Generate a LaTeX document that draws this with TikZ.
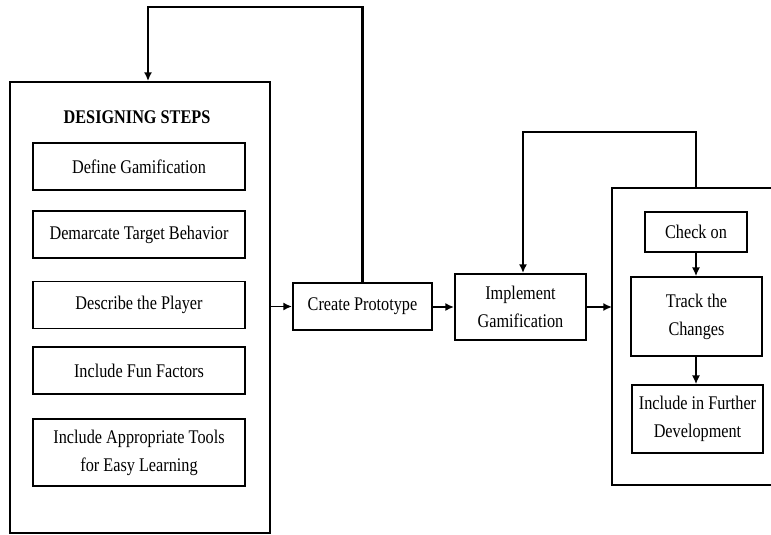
\documentclass[tikz,border=0pt]{standalone}
\usepackage{fontspec}
\setmainfont{Liberation Serif}[FakeStretch=0.84]
\usetikzlibrary{arrows,arrows.meta,positioning}

\begin{document}
\begin{tikzpicture}[x=0.03cm,y=-0.03cm,>={Latex[length=2.6mm,width=2.4mm]},
    every node/.style={font=\fontsize{16.5}{24}\selectfont},
    frame/.style={draw,line width=1.7pt},
    stepbox/.style={draw,line width=1.6pt,minimum width=212*0.03cm,minimum height=47*0.03cm,inner sep=1pt},
    box/.style={draw,line width=1.6pt,align=center,inner sep=1pt},
    arr/.style={->,line width=1.5pt},
    loop/.style={->,line width=1.7pt}]

    \useasboundingbox (0,0) rectangle (771,535);

    % designing steps
    \node[frame,minimum width=260*0.03cm,minimum height=451*0.03cm] (BIG) at (140,307.5) {};
    \node[font=\fontsize{16.5}{20}\selectfont\bfseries] (TITLE) at (137,117) {DESIGNING STEPS};

    \foreach \y/\t/\n in {166.5/Define Gamification/DEFINE,234.5/Demarcate Target Behavior/DEMARCATE,
                          305/Describe the Player/PLAYER,370.5/Include Fun Factors/FUN}
      \node[stepbox] (\n) at (139,\y) {\t};
    \node[stepbox,minimum height=67*0.03cm,align=center] (TOOLS) at (139,452.5) {Include Appropriate Tools\\for Easy Learning};

    % middle
    \node[box,minimum width=139*0.03cm,minimum height=47*0.03cm] (PROTO) at (362.5,306.5) {Create Prototype};
    \node[box,minimum width=131*0.03cm,minimum height=66*0.03cm] (IMPL) at (520.5,307) {Implement\\Gamification};

    % right frame, open to the right
    \draw[frame] (775,188) -- (612,188) -- (612,485) -- (775,485);
    \coordinate (RLEFT) at (612,307);
    \coordinate (RTOP) at (696,188);

    \node[box,minimum width=102*0.03cm,minimum height=40*0.03cm] (CHECK) at (696,232) {Check on};
    \node[box,minimum width=131*0.03cm,minimum height=79*0.03cm] (TRACK) at (696.5,316.5) {Track the\\Changes};
    \node[box,minimum width=131*0.03cm,minimum height=68*0.03cm] (FURTHER) at (697.5,419) {Include in Further\\Development};

    \draw[arr] (BIG.east |- PROTO.west) -- (PROTO.west);
    \draw[arr] (PROTO.east |- IMPL.west) -- (IMPL.west);
    \draw[arr] (IMPL.east) -- (RLEFT);
    \draw[->,line width=1.1pt] (CHECK) -- (CHECK |- TRACK.north);
    \draw[->,line width=1.1pt] (TRACK.south -| CHECK) -- (CHECK |- FURTHER.north);

    % feedback loops
    \coordinate (TOPL) at (148,7);
    \draw[loop,line width=2.2pt] (PROTO.north) |- (TOPL) -- (TOPL |- BIG.north);
    \coordinate (LOOP) at (523,132);
    \draw[loop] (RTOP) |- (LOOP) -- (LOOP |- IMPL.north);

\end{tikzpicture}
\end{document}
